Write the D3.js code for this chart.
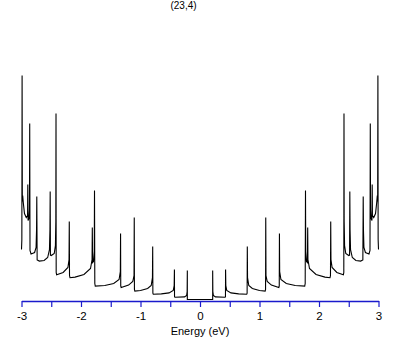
<!DOCTYPE html>
<html>
<head>
<meta charset="utf-8">
<script src="https://cdn.jsdelivr.net/npm/d3@7"></script>
<style>
  body { margin: 0; background: #fff; }
  text { font-family: "Liberation Sans", Arial, sans-serif; }
</style>
</head>
<body>
<svg id="drawing_region"></svg>
<script>
// (23,4) tube, density of states, positive-energy half
// (the plot is mirror symmetric about E = 0)
const title = "(23,4)";
const xLabel = "Energy (eV)";

const energy = [
    0.000, 0.213,
    0.213, 0.216, 0.225, 0.260, 0.420,
    0.428, 0.430, 0.434, 0.450, 0.520, 0.650, 0.785, 0.792,
    0.795, 0.799, 0.820, 0.880, 1.000, 1.095, 1.102,
    1.105, 1.109, 1.130, 1.200, 1.325, 1.332,
    1.335, 1.339, 1.360, 1.450, 1.600, 1.760, 1.768,
    1.773, 1.777, 1.790, 1.805, 1.810, 1.814, 1.840, 1.950, 2.100, 2.185, 2.193,
    2.197, 2.201, 2.220, 2.300, 2.410, 2.417,
    2.420, 2.423, 2.430, 2.450, 2.500, 2.514,
    2.518, 2.522, 2.530, 2.560, 2.620, 2.700, 2.737,
    2.743, 2.747, 2.755, 2.780, 2.840, 2.857,
    2.862, 2.866, 2.875, 2.890,
    2.894, 2.898, 2.920, 2.950, 2.970, 2.980, 2.986,
    2.990, 2.994, 3.000
];
const dos = [
    0.00, 0.00,
    1.45, 0.40, 0.20, 0.13, 0.11,
    0.14, 1.50, 0.70, 0.45, 0.33, 0.28, 0.26, 0.32,
    2.65, 1.10, 0.70, 0.55, 0.45, 0.42, 0.50,
    4.10, 1.20, 0.90, 0.72, 0.60, 0.68,
    3.30, 1.40, 1.00, 0.80, 0.70, 0.67, 0.80,
    5.45, 2.40, 1.90, 1.85, 3.60, 2.00, 1.55, 1.25, 1.12, 1.09, 1.20,
    3.90, 2.00, 1.60, 1.35, 1.24, 1.35,
    9.30, 3.90, 2.70, 2.30, 2.20, 2.22,
    5.40, 3.50, 2.50, 2.10, 1.95, 1.92, 1.98,
    5.15, 3.50, 2.60, 2.35, 2.28, 2.45,
    8.80, 4.50, 4.05, 3.95,
    5.75, 4.20, 4.10, 4.30, 4.85, 5.20, 4.90,
    11.20, 3.00, 2.50
];

const xTicks = [-3, -2.5, -2, -1.5, -1, -0.5, 0, 0.5, 1, 1.5, 2, 2.5, 3];

var config = {
    parent: '#drawing_region',
    width: 409,
    height: 345,
};

class DosChart {

    constructor( config ) {
        this.config = config;
        let half = energy.map( (e, i) => ({ x: e, y: dos[i] }) );
        // mirror the half onto negative energies
        let left = half.slice().reverse().map( d => ({ x: -d.x, y: d.y }) );
        this.data = left.concat( half.slice(1) );
        this.init();
    }

    init() {
        let self = this;

        self.svg = d3.select( self.config.parent )
            .attr('width', self.config.width)
            .attr('height', self.config.height);

        self.xscale = d3.scaleLinear()
            .domain( [-3, 3] )
            .range( [21.5, 378.5] );
        self.yscale = d3.scaleLinear()
            .domain( [0, 12] )
            .range( [299.5, 59.5] );

        self.xaxis = d3.axisBottom( self.xscale )
            .tickValues( xTicks )
            .tickSize( 6 )
            .tickSizeOuter( 0 )
            .tickPadding( 5 )
            .tickFormat( d => Number.isInteger(d) ? String(d) : "" );
    }

    render() {
        let self = this;

        let line = d3.line()
            .x( d => self.xscale(d.x) )
            .y( d => self.yscale(d.y) );

        self.svg.append('path')
            .datum( self.data )
            .attr('d', line)
            .attr('fill', 'none')
            .attr('stroke', '#000')
            .attr('stroke-width', 1.1);

        let ax = self.svg.append('g')
            .attr('transform', 'translate(0, 301)')
            .call( self.xaxis );
        ax.select('.domain').attr('stroke', '#1a1acc').attr('stroke-width', 1.4);
        ax.selectAll('.tick line').attr('stroke', '#1a1acc').attr('stroke-width', 1.2);
        ax.selectAll('.tick text')
            .attr('fill', '#000')
            .style('font-size', '11.5px')
            .style('font-family', '"Liberation Sans", Arial, sans-serif');

        self.svg.append('text')
            .attr('x', 200)
            .attr('y', 334.5)
            .attr('text-anchor', 'middle')
            .style('font-size', '11px')
            .text( xLabel );

        self.svg.append('text')
            .attr('x', 183.5)
            .attr('y', 8.5)
            .attr('text-anchor', 'middle')
            .style('font-size', '10px')
            .text( title );
    }
}

const chart = new DosChart( config );
chart.render();
</script>
</body>
</html>
